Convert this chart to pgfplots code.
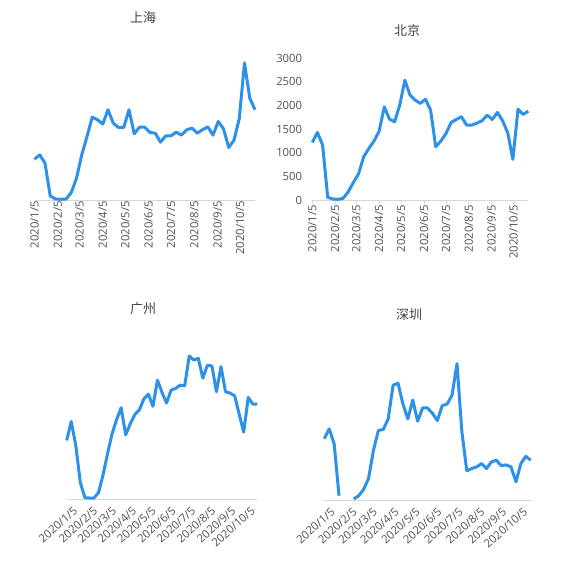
\documentclass[border=0pt]{standalone}
\usepackage{pgfplots}
\pgfplotsset{compat=1.18}
\usepackage{pgfplotstable}
\usepackage{fontspec}
\setmainfont{Open Sans}
\newfontfamily\cjk{Noto Sans CJK SC}
\definecolor{lineblue}{RGB}{45,145,232}
\definecolor{axgray}{RGB}{214,214,214}
\definecolor{labgray}{RGB}{80,80,80}
\definecolor{titlegray}{RGB}{64,64,64}

\pgfplotstableread{
d sh bj gz sz
0 863 1218 1239 1295
7 954 1429 1638 1505
14 778 1162 1134 1190
21 85 56 350 91
28 21 21 28 nan
35 14 14 21 nan
42 21 35 21 21
49 156 176 133 91
56 460 373 504 224
63 954 556 959 455
70 1343 915 1379 1050
77 1753 1091 1680 1470
84 1697 1246 1932 1491
91 1605 1457 1358 1715
98 1909 1971 1589 2429
105 1626 1711 1785 2471
112 1534 1654 1883 2030
119 1534 2006 2114 1715
126 1909 2534 2219 2114
133 1400 2218 1960 1666
140 1541 2112 2513 1946
147 1541 2042 2254 1946
154 1428 2133 2030 1834
161 1414 1901 2303 1680
168 1223 1126 2338 1995
175 1357 1246 2408 2030
182 1357 1408 2394 2219
189 1435 1640 3024 2884
196 1372 1704 2940 1435
203 1485 1760 2975 616
210 1520 1584 2555 665
217 1414 1584 2828 700
224 1485 1626 2814 770
231 1548 1676 2268 665
238 1372 1795 2800 805
245 1661 1704 2268 840
252 1506 1852 2240 728
259 1110 1676 2184 742
266 1266 1422 1799 700
273 1718 859 1414 385
280 2899 1922 2149 770
287 2156 1809 2009 924
294 1909 1880 2009 840
}\datatable

\pgfplotsset{
  cityax/.style={
    scale only axis,
    height=151.3pt,
    xmin=0, xmax=294, ymin=0, ymax=3200,
    axis x line*=bottom,
    x axis line style={draw=axgray, line width=0.9pt, -},
    xtick={0,31,60,91,121,152,182,213,244,274},
    xticklabels={2020/1/5,2020/2/5,2020/3/5,2020/4/5,2020/5/5,2020/6/5,2020/7/5,2020/8/5,2020/9/5,2020/10/5},
    tick label style={font=\fontsize{11.3}{12}\selectfont, text=labgray},
    /pgf/number format/assume math mode=true,
    /pgf/number format/1000 sep={},
    major tick length=0pt,
    clip=false,
    unbounded coords=jump,
  },
  noy/.style={axis y line=none, ytick=\empty},
  vlab/.style={xticklabel style={rotate=90, anchor=east, inner sep=1pt}},
  dlab/.style={xticklabel style={rotate=42, anchor=north east, inner sep=1pt, yshift=-8pt, xshift=1pt}},
  cityline/.style={color=lineblue, line width=3pt, line join=round, mark=none},
}

\begin{document}
\begin{tikzpicture}[x=1pt,y=1pt]
\path[use as bounding box] (0,0) rectangle (565,568);

% Shanghai
\begin{axis}[cityax, noy, vlab, at={(34.5pt,368pt)}, anchor=south west, width=220.5pt]
\addplot[cityline] table[x=d, y=sh] {\datatable};
\end{axis}
\node[font=\cjk\fontsize{13}{13}\selectfont, text=titlegray] at (143,550.5) {上海};

% Beijing
\begin{axis}[cityax, vlab, at={(312.3pt,368pt)}, anchor=south west, width=216pt,
  axis y line*=left, y axis line style={draw=none},
  ytick={0,500,1000,1500,2000,2500,3000},
  yticklabel style={anchor=east, inner sep=0pt, xshift=-6pt},
  ytick style={draw=none},
  xtick style={draw=axgray, line width=0.9pt},
  major tick length=4pt,
  tick align=outside]
\addplot[cityline] table[x=d, y=bj] {\datatable};
\end{axis}
\node[font=\cjk\fontsize{13}{13}\selectfont, text=titlegray] at (407,537) {北京};

% Guangzhou
\begin{axis}[cityax, noy, dlab, at={(66.7pt,69pt)}, anchor=south west, width=190.6pt]
\addplot[cityline] table[x=d, y=gz] {\datatable};
\end{axis}
\node[font=\cjk\fontsize{13}{13}\selectfont, text=titlegray] at (143,259.5) {广州};

% Shenzhen
\begin{axis}[cityax, noy, dlab, at={(324.3pt,68pt)}, anchor=south west, width=206.4pt]
\addplot[cityline] table[x=d, y=sz] {\datatable};
\end{axis}
\node[font=\cjk\fontsize{13}{13}\selectfont, text=titlegray] at (409,253) {深圳};

\end{tikzpicture}
\end{document}
